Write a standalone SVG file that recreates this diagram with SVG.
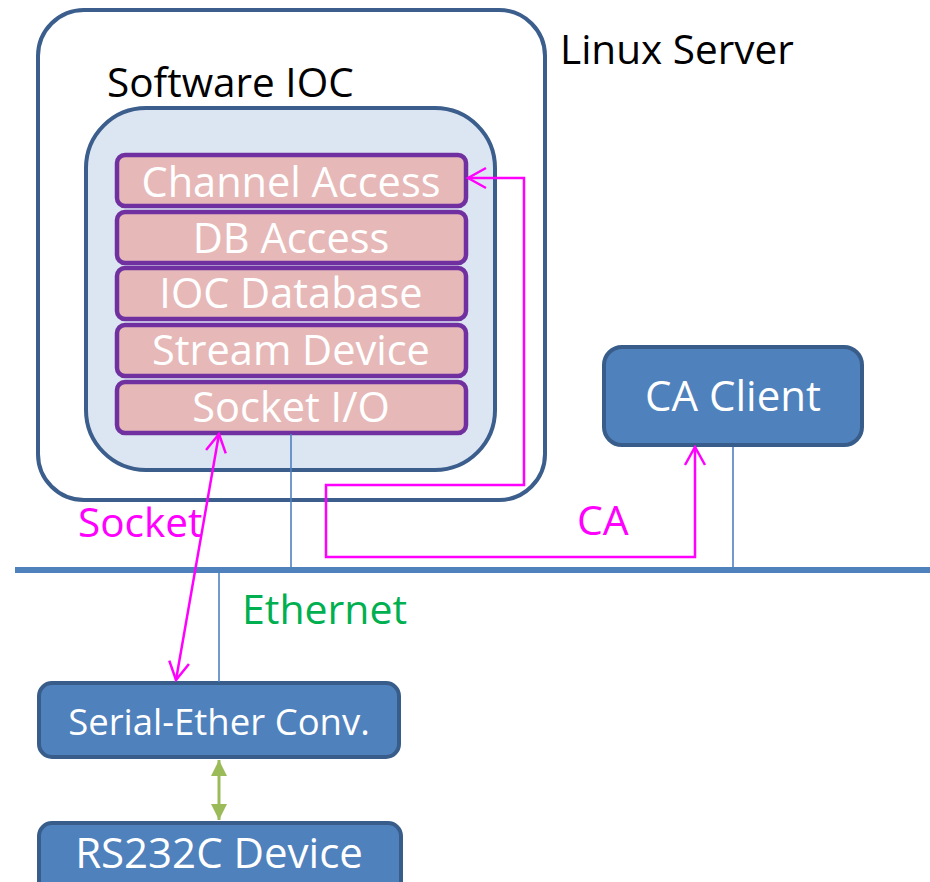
<svg xmlns="http://www.w3.org/2000/svg" width="930" height="882" viewBox="0 0 930 882">
<style>
text{font-family:"Open Sans","Noto Sans",sans-serif;}
.lbl{font-size:40.5px;fill:#000;}
.layer rect{fill:#e6b9b8;stroke:#7030a0;stroke-width:4.5;}
.layer text{font-size:41.5px;fill:#fff;text-anchor:middle;}
.node rect{fill:#4f81bd;stroke:#385d8a;stroke-width:4;}
.node text{fill:#fff;text-anchor:middle;}
.drop{stroke:#4f81bd;stroke-width:1.6;fill:none;}
.mag{stroke:#ff00ff;stroke-width:2.5;fill:none;}
</style>
<defs>
<marker id="open" viewBox="-20 -12 22 24" markerWidth="22" markerHeight="24" refX="0" refY="0" orient="auto-start-reverse" markerUnits="userSpaceOnUse">
<path d="M-18 -10 L0 0 L-18 10" fill="none" stroke="#ff00ff" stroke-width="2.5"/>
</marker>
<marker id="tri" viewBox="-16 -8 16 16" markerWidth="16" markerHeight="16" refX="0" refY="0" orient="auto-start-reverse" markerUnits="userSpaceOnUse">
<path d="M-16 -8 L0 0 L-16 8 Z" fill="#9bbb59"/>
</marker>
</defs>
<rect width="930" height="882" fill="#fff"/>

<g id="linux-server">
<rect x="38" y="10" width="507" height="490" rx="46" fill="#fff" stroke="#3b5e8c" stroke-width="4"/>
<text class="lbl" x="560" y="64">Linux Server</text>
</g>

<g id="software-ioc">
<rect x="86" y="108" width="409" height="362" rx="60" fill="#dce6f2" stroke="#3b5e8c" stroke-width="4"/>
<text class="lbl" x="107" y="97">Software IOC</text>
</g>

<g id="channel-access" class="layer">
<rect x="117" y="155" width="349" height="51" rx="8"/>
<text x="291" y="197">Channel Access</text>
</g>
<g id="db-access" class="layer">
<rect x="117" y="212" width="349" height="51" rx="8"/>
<text x="291" y="253">DB Access</text>
</g>
<g id="ioc-database" class="layer">
<rect x="117" y="268" width="349" height="51" rx="8"/>
<text x="291" y="308">IOC Database</text>
</g>
<g id="stream-device" class="layer">
<rect x="117" y="325" width="349" height="51" rx="8"/>
<text x="291" y="365">Stream Device</text>
</g>
<g id="socket-io" class="layer">
<rect x="117" y="382" width="349" height="51" rx="8"/>
<text x="291" y="422">Socket I/O</text>
</g>

<g id="ca-client" class="node">
<rect x="604" y="347" width="258" height="98" rx="18"/>
<text x="733" y="411" font-size="42">CA Client</text>
</g>

<g id="serial-ether-conv" class="node">
<rect x="39" y="683" width="360" height="74" rx="13"/>
<text x="219" y="735" font-size="36.5">Serial-Ether Conv.</text>
</g>

<g id="rs232c-device" class="node">
<rect x="39" y="823" width="362" height="80" rx="13"/>
<text x="219" y="868" font-size="42">RS232C Device</text>
</g>

<g id="connectors">
<line x1="15" y1="570" x2="930" y2="570" stroke="#4f81bd" stroke-width="6"/>
<line class="drop" x1="291" y1="434" x2="291" y2="567"/>
<line class="drop" x1="733" y1="447" x2="733" y2="567"/>
<line class="drop" x1="219" y1="573" x2="219" y2="682"/>
<path class="mag" d="M468 178 L524 178 L524 485 L326 485 L326 557 L695 557 L695 447" marker-start="url(#open)" marker-end="url(#open)"/>
<line class="mag" x1="219" y1="434" x2="176" y2="680" marker-start="url(#open)" marker-end="url(#open)"/>
<line x1="219" y1="760" x2="219" y2="820" stroke="#9bbb59" stroke-width="3" marker-start="url(#tri)" marker-end="url(#tri)"/>
<text x="78" y="537" font-size="40.5" fill="#ff00ff">Socket</text>
<text x="577" y="535" font-size="41" fill="#ff00ff">CA</text>
<text x="242" y="624" font-size="41" fill="#00b050">Ethernet</text>
</g>
</svg>
